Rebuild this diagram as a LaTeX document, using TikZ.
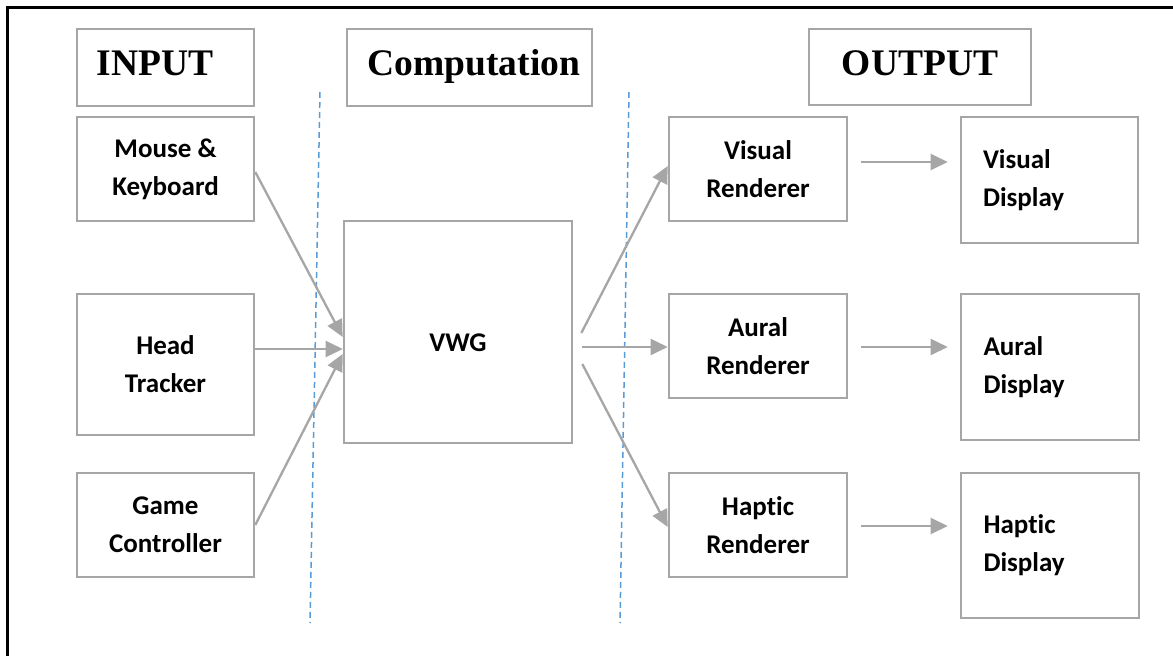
\documentclass[tikz,border=0pt]{standalone}
\usepackage{fontspec}
\setmainfont{Carlito}[Ligatures={NoCommon}]
\newfontfamily\headfont{Liberation Serif}
\usetikzlibrary{arrows.meta}
\definecolor{boxgrey}{HTML}{A6A6A6}
\definecolor{divblue}{HTML}{5B9BD5}
\tikzset{
  box/.style={draw=boxgrey, line width=2.6pt, inner sep=0pt, align=center,
    font=\bfseries\fontsize{27}{38}\selectfont},
  headtext/.style={anchor=base, inner sep=0pt, font=\headfont\bfseries\fontsize{37.5}{40}\selectfont},
  flow/.style={draw=boxgrey, line width=2.3pt, -{Triangle[length=17pt,width=16pt]}},
  divider/.style={draw=divblue, line width=1.5pt, dash pattern=on 6pt off 4pt},
}
\begin{document}
\begin{tikzpicture}[x=1pt, y=-1pt]
\useasboundingbox (0,0) rectangle (1173,656);

% frame
\draw[line width=3pt] (7.5,656) -- (7.5,7.5) -- (1173,7.5);

% column headings
\node[box, minimum width=177pt, minimum height=77pt] (inhead) at (165.5,67.5) {};
\node[box, minimum width=245pt, minimum height=77pt] (comphead) at (469.5,67.5) {};
\node[box, minimum width=222pt, minimum height=76pt] (outhead) at (920,67) {};
\node[headtext] (intext) at (155,75) {INPUT};
\node[headtext] (comptext) at (474,75) {Computation};
\node[headtext] (outtext) at (920,75) {OUTPUT};

% input devices
\node[box, minimum width=177pt, minimum height=104pt] (mk) at (165.5,169) {Mouse \&\\Keyboard};
\node[box, minimum width=177pt, minimum height=141pt] (ht) at (165.5,364.5) {Head\\Tracker};
\node[box, minimum width=177pt, minimum height=104pt] (gc) at (165.5,525) {Game\\Controller};

% virtual world generator
\node[box, minimum width=228pt, minimum height=222pt] (vwg) at (458,332) {};
\node[box, draw=none] (vwgtext) at (458,343) {VWG};

% renderers
\node[box, minimum width=178pt, minimum height=104pt] (vr) at (758,169) {Visual\\Renderer};
\node[box, minimum width=178pt, minimum height=104pt] (ar) at (758,346) {Aural\\Renderer};
\node[box, minimum width=178pt, minimum height=104pt] (hr) at (758,525) {Haptic\\Renderer};

% displays
\node[box, align=left, text width=133pt, minimum width=177pt, minimum height=126pt] (vd) at (1049.5,180) {Visual\\Display};
\node[box, align=left, text width=133pt, minimum width=178pt, minimum height=146pt] (ad) at (1050,367) {Aural\\Display};
\node[box, align=left, text width=133pt, minimum width=178pt, minimum height=145pt] (hd) at (1050,545.5) {Haptic\\Display};

% dividers between the columns
\coordinate (d1top) at (320,92);
\coordinate (d1bot) at (310,623);
\coordinate (d2top) at (629,92);
\coordinate (d2bot) at (620,623);
\draw[divider] (d1top) -- (d1bot);
\draw[divider] (d2top) -- (d2bot);

% inputs into the VWG
\draw[flow] ([yshift=-3pt]mk.east) -- ([yshift=-5pt]vwg.west);
\draw[flow] ([yshift=15.5pt]ht.east) -- ([yshift=-17pt]vwg.west);
\draw[flow] (gc.east) -- ([yshift=-22pt]vwg.west);

% VWG to renderers
\draw[flow] ([xshift=8pt,yshift=-1pt]vwg.east) -- ([yshift=3pt]vr.west);
\draw[flow] ([xshift=9pt,yshift=-15pt]vwg.east) -- ([yshift=-1pt]ar.west);
\draw[flow] ([xshift=9pt,yshift=-32pt]vwg.east) -- ([yshift=-2pt]hr.west);

% renderers to displays
\draw[flow] ([xshift=13pt,yshift=7pt]vr.east) -- ([xshift=-12pt,yshift=18pt]vd.west);
\draw[flow] ([xshift=13pt,yshift=-1pt]ar.east) -- ([xshift=-12pt,yshift=20pt]ad.west);
\draw[flow] ([xshift=13pt,yshift=-1pt]hr.east) -- ([xshift=-12pt,yshift=19.5pt]hd.west);
\end{tikzpicture}
\end{document}
